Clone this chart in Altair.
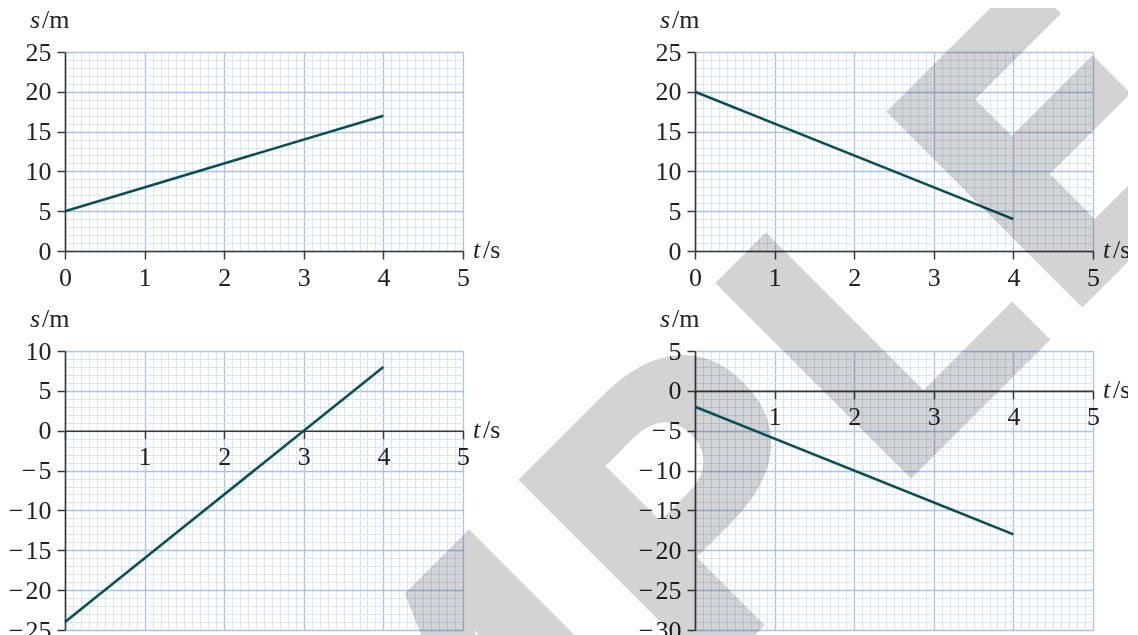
import altair as alt
import pandas as pd

# ---- data ----
t_values = [0, 4]
s_panel1 = [5, 17]
s_panel2 = [20, 4]
s_panel3 = [-24, 8]
s_panel4 = [-2, -18]
y_domains = [[0, 25], [0, 25], [-25, 10], [-30, 5]]
x_domain = [0, 5]
x_grid = [round(i * 0.1, 1) for i in range(51)]
watermark_text = "SAMPLE"

FONT = "Liberation Serif"
FS = 26
W = 398
PX_PER_M = 7.97
LINE_COLOR = "#0b4f57"
AXIS_COLOR = "#3a3a3a"
MAJOR = "#a9c3ea"
MINOR = "#d9e4f6"


def panel(s_vals, ydom, zero_axis, watermark=False):
    ymin, ymax = ydom
    H = round((ymax - ymin) * PX_PER_M)
    zero_px = H * ymax / (ymax - ymin)
    offset = 0 if not zero_axis else -(H - zero_px)
    df = pd.DataFrame({"t": t_values, "s": s_vals})
    y_grid = list(range(ymin, ymax + 1))

    x_major = "abs(datum.value - round(datum.value)) < 0.001"
    if zero_axis:
        x_label = f"({x_major}) && datum.value != 0 ? format(datum.value, 'd') : ''"
    else:
        x_label = f"{x_major} ? format(datum.value, 'd') : ''"
    y_major = "datum.value % 5 == 0"
    y_label = (f"{y_major} ? (datum.value < 0 ? '\u2212\u200a' + abs(datum.value) : '' + datum.value) : ''")

    xaxis = alt.Axis(
        values=x_grid, grid=True,
        gridColor={"condition": {"test": x_major, "value": MAJOR}, "value": MINOR},
        gridWidth={"condition": {"test": x_major, "value": 1.3}, "value": 1},
        tickOpacity={"condition": {"test": x_major, "value": 1}, "value": 0},
        tickSize=8, tickWidth=1.5, tickColor=AXIS_COLOR,
        domainColor=AXIS_COLOR, domainWidth=1.6,
        labelExpr=x_label, labelFont=FONT, labelFontSize=FS, labelColor="#222",
        labelPadding=5, labelOverlap=False, labelFlush=False, title=None,
        offset=offset,
    )
    yaxis = alt.Axis(
        values=y_grid, grid=True,
        gridColor={"condition": {"test": y_major, "value": MAJOR}, "value": MINOR},
        gridWidth={"condition": {"test": y_major, "value": 1.3}, "value": 1},
        tickOpacity={"condition": {"test": y_major, "value": 1}, "value": 0},
        tickSize=8, tickWidth=1.5, tickColor=AXIS_COLOR,
        domainColor=AXIS_COLOR, domainWidth=1.6,
        labelExpr=y_label, labelFont=FONT, labelFontSize=FS, labelColor="#222",
        labelPadding=6, labelOverlap=False, labelFlush=False, title=None,
    )

    line = alt.Chart(df).mark_line(color=LINE_COLOR, strokeWidth=2.6).encode(
        x=alt.X("t:Q", scale=alt.Scale(domain=x_domain, nice=False, zero=False), axis=xaxis),
        y=alt.Y("s:Q", scale=alt.Scale(domain=ydom, nice=False, zero=False), axis=yaxis),
    )

    one = alt.Data(values=[{"k": 1}])
    common = dict(font=FONT, fontSize=FS, color="#222", align="left", baseline="alphabetic")
    s_lab = alt.Chart(one).mark_text(text="s", fontStyle="italic", **common).encode(
        x=alt.value(-35), y=alt.value(-24))
    m_lab = alt.Chart(one).mark_text(text="/m", **common).encode(
        x=alt.value(-23), y=alt.value(-24))
    t_lab = alt.Chart(one).mark_text(text="t", fontStyle="italic", **common).encode(
        x=alt.value(W + 10), y=alt.value(zero_px + 7))
    ts_lab = alt.Chart(one).mark_text(text="/s", **common).encode(
        x=alt.value(W + 20), y=alt.value(zero_px + 7))

    layers = [line, s_lab, m_lab, t_lab, ts_lab]
    if watermark:
        wm = alt.Chart(one).mark_text(
            text=watermark_text, font="DejaVu Sans", fontWeight="bold", fontSize=380,
            angle=315, align="center", baseline="alphabetic", color="#d3d3d3",
            blend="multiply",
        ).encode(x=alt.value(-64), y=alt.value(408))
        layers = [wm] + layers
    return alt.layer(*layers).properties(width=W, height=H)


p1 = panel(s_panel1, y_domains[0], False)
p2 = panel(s_panel2, y_domains[1], False)
p3 = panel(s_panel3, y_domains[2], True)
p4 = panel(s_panel4, y_domains[3], True, watermark=True)

chart = alt.concat(
    p1, p2, p3, p4, columns=2,
    spacing=alt.RowColnumber(row=100, column=232), bounds="flush",
).configure_view(stroke=None).properties(
    autosize=alt.AutoSizeParams(type="none"),
    padding={"left": 57, "top": 44, "right": 1063, "bottom": 583})

chart.save("out.html", embed_options={"renderer": "svg", "actions": False})
